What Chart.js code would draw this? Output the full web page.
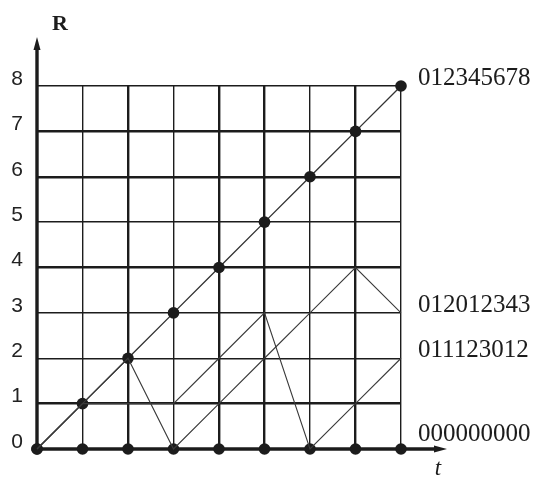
<!DOCTYPE html>
<html>
<head>
<meta charset="utf-8">
<script src="https://cdn.jsdelivr.net/npm/chart.js@4"></script>
<style>
  html, body { margin: 0; padding: 0; background: #fff; }
  #wrap { width: 539px; height: 477px; }
</style>
</head>
<body>
<div id="wrap"><canvas id="chart"></canvas></div>
<script>
// data
const tValues = [0, 1, 2, 3, 4, 5, 6, 7, 8];
const seqFull = [0, 1, 2, 3, 4, 5, 6, 7, 8];   // 012345678
const seqB = [0, 1, 2, 0, 1, 2, 3, 4, 3];      // 012012343
const seqC = [0, 1, 1, 1, 2, 3, 0, 1, 2];      // 011123012
const seqZero = [0, 0, 0, 0, 0, 0, 0, 0, 0];   // 000000000
const seqLabels = ["012345678", "012012343", "011123012", "000000000"];
const yTicks = [0, 1, 2, 3, 4, 5, 6, 7, 8];

const ink = "#1c1c1c";
const toPoints = ys => tValues.map((t, i) => ({ x: t, y: ys[i] }));

// grid lines in the picture are not all the same weight
const thickX = [2, 4, 5, 7];
const thickY = [1, 4, 6, 7];

const annotate = {
  id: "annotate",
  beforeDatasetsDraw(chart) {
    const { ctx, chartArea: a } = chart;
    ctx.save();
    ctx.strokeStyle = ink;
    ctx.fillStyle = ink;
    ctx.lineWidth = 3.4;
    // y axis with arrow
    ctx.beginPath();
    ctx.moveTo(a.left, a.bottom + 1.7);
    ctx.lineTo(a.left, 48);
    ctx.stroke();
    ctx.beginPath();
    ctx.moveTo(a.left, 37);
    ctx.lineTo(a.left - 3.5, 50);
    ctx.lineTo(a.left + 3.5, 50);
    ctx.closePath();
    ctx.fill();
    // x axis with arrow
    ctx.beginPath();
    ctx.moveTo(a.left - 1.7, a.bottom);
    ctx.lineTo(437, a.bottom);
    ctx.stroke();
    ctx.beginPath();
    ctx.moveTo(447, a.bottom);
    ctx.lineTo(434, a.bottom - 3.5);
    ctx.lineTo(434, a.bottom + 3.5);
    ctx.closePath();
    ctx.fill();
    ctx.restore();
  },
  afterDraw(chart) {
    const { ctx } = chart;
    const y = chart.scales.y;
    const ends = [seqFull, seqB, seqC, seqZero].map(s => s[s.length - 1]);
    const lift = [-1, -1, -1, -8];
    ctx.save();
    ctx.fillStyle = ink;
    ctx.font = '25px "Liberation Serif"';
    ctx.textAlign = "left";
    ctx.textBaseline = "alphabetic";
    seqLabels.forEach((lab, i) => {
      ctx.fillText(lab, 418, y.getPixelForValue(ends[i]) + lift[i]);
    });
    ctx.font = 'bold 22px "Liberation Serif"';
    ctx.textAlign = "center";
    ctx.fillText("R", 60, 30);
    ctx.font = 'italic 23px "Liberation Serif"';
    ctx.fillText("t", 438, 475);
    ctx.restore();
  }
};

new Chart(document.getElementById("chart"), {
  type: "scatter",
  data: {
    datasets: [
      {
        data: toPoints(seqB),
        showLine: true,
        borderColor: "#3a3a3a",
        borderWidth: 1.1,
        pointRadius: 0,
        clip: false
      },
      {
        data: toPoints(seqC),
        showLine: true,
        borderColor: "#3a3a3a",
        borderWidth: 1.1,
        pointRadius: 0,
        clip: false
      },
      {
        data: toPoints(seqFull),
        showLine: true,
        borderColor: "#333",
        borderWidth: 1.4,
        pointRadius: 5.8,
        pointBackgroundColor: ink,
        pointBorderWidth: 0,
        clip: false
      },
      {
        data: toPoints(seqZero),
        showLine: false,
        pointRadius: 5.8,
        pointBackgroundColor: ink,
        pointBorderWidth: 0,
        clip: false
      }
    ]
  },
  options: {
    responsive: true,
    maintainAspectRatio: false,
    animation: false,
    events: [],
    layout: { padding: { top: 86, right: 138, bottom: 0, left: 0 } },
    plugins: {
      legend: { display: false },
      tooltip: { enabled: false }
    },
    scales: {
      x: {
        type: "linear",
        min: 0,
        max: 8,
        ticks: { stepSize: 1, display: false },
        border: { display: false },
        grid: {
          drawTicks: false,
          color: ink,
          lineWidth: c => (c.tick.value === 0 ? 0 : thickX.includes(c.tick.value) ? 2.4 : 1.4)
        },
        afterFit: s => { s.height = 28; }
      },
      y: {
        type: "linear",
        min: 0,
        max: 8,
        afterBuildTicks: s => { s.ticks = yTicks.map(v => ({ value: v })); },
        ticks: {
          padding: 14,
          labelOffset: -7,
          color: "#222",
          font: { family: '"Liberation Sans"', size: 21 }
        },
        border: { display: false },
        grid: {
          drawTicks: false,
          color: ink,
          lineWidth: c => (c.tick.value === 0 ? 0 : thickY.includes(c.tick.value) ? 2.4 : 1.4)
        },
        afterFit: s => { s.width = 37; }
      }
    }
  },
  plugins: [annotate]
});
</script>
</body>
</html>
